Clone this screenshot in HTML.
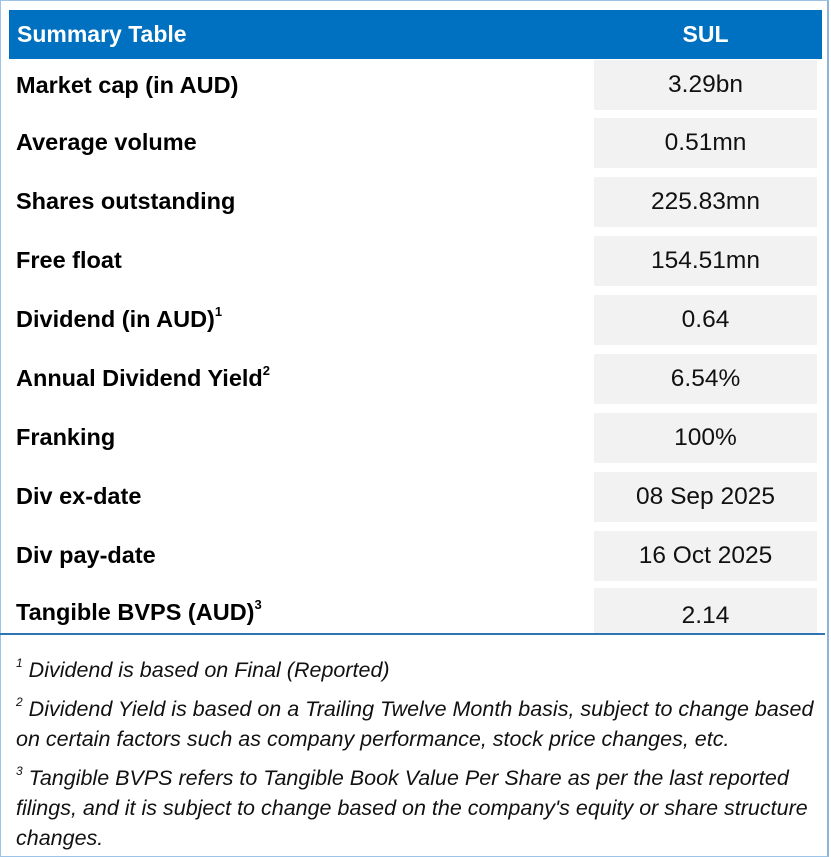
<!DOCTYPE html>
<html><head><meta charset="utf-8"><style>
body{margin:0;width:831px;height:857px;background:#fff;position:relative;font-family:"Liberation Sans",sans-serif;overflow:hidden}
#frame{position:absolute;left:0;top:0;width:826px;height:855px;border:1px solid #9dc3e6;border-right:2px solid #8fb4d9}
#hdr{position:absolute;left:9px;top:10px;width:813px;height:49px;background:#0070c0;color:#fff;font-weight:bold;font-size:23px}
#hdr .l{position:absolute;left:8px;top:11px}
#hdr .r{position:absolute;left:585px;width:223px;text-align:center;top:11px}
.row{position:absolute;left:0;width:831px;height:53px}
.row .lab{position:absolute;left:16px;top:11px;font-weight:bold;font-size:23.5px;color:#000;white-space:nowrap}
.row .val{position:absolute;left:594px;width:223px;top:0;height:50px;background:#f2f2f2;text-align:center;font-size:24.5px;line-height:50px;color:#111}
sup{font-size:13px;position:relative;top:-2px}
#line{position:absolute;left:0;top:633px;width:825px;height:2px;background:#2e75b6}
.fn{position:absolute;left:16px;font-style:italic;font-size:21.5px;color:#111;line-height:30px;width:810px;white-space:nowrap}
.fn sup{font-size:12px}
</style></head><body>
<div id="frame"></div>
<div id="hdr"><span class="l">Summary Table</span><span class="r">SUL</span></div>
<div class="row" style="top:60px"><span class="lab" style="top:12px">Market cap (in AUD)</span><span class="val">3.29bn</span></div>
<div class="row" style="top:118px"><span class="lab">Average volume</span><span class="val">0.51mn</span></div>
<div class="row" style="top:177px"><span class="lab">Shares outstanding</span><span class="val">225.83mn</span></div>
<div class="row" style="top:236px"><span class="lab">Free float</span><span class="val">154.51mn</span></div>
<div class="row" style="top:295px"><span class="lab">Dividend (in AUD)<sup>1</sup></span><span class="val">0.64</span></div>
<div class="row" style="top:354px"><span class="lab">Annual Dividend Yield<sup>2</sup></span><span class="val">6.54%</span></div>
<div class="row" style="top:413px"><span class="lab">Franking</span><span class="val">100%</span></div>
<div class="row" style="top:472px"><span class="lab">Div ex-date</span><span class="val">08 Sep 2025</span></div>
<div class="row" style="top:531px"><span class="lab">Div pay-date</span><span class="val">16 Oct 2025</span></div>
<div class="row" style="top:588px"><span class="lab">Tangible BVPS (AUD)<sup>3</sup></span><span class="val" style="height:45px;line-height:55px">2.14</span></div>
<div id="line"></div>
<div class="fn" style="top:650px"><sup>1</sup> Dividend is based on Final (Reported)</div>
<div class="fn" style="top:689px"><sup>2</sup> Dividend Yield is based on a Trailing Twelve Month basis, subject to change based<br>on certain factors such as company performance, stock price changes, etc.</div>
<div class="fn" style="top:758px"><sup>3</sup> Tangible BVPS refers to Tangible Book Value Per Share as per the last reported<br>filings, and it is subject to change based on the company's equity or share structure<br>changes.</div>
</body></html>
